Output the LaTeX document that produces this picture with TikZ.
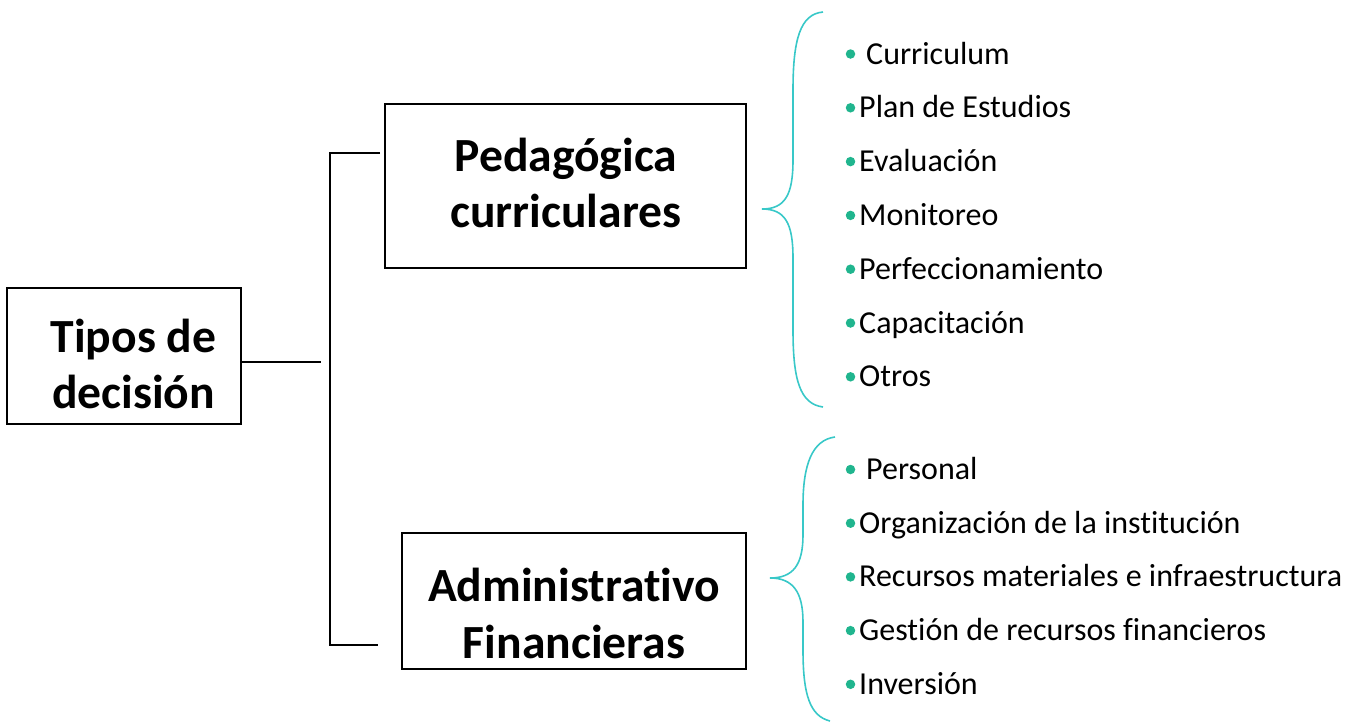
\documentclass[tikz,border=0pt]{standalone}
\usepackage{fontspec}
\setmainfont{Carlito}[Ligatures={NoCommon,NoContextual,NoRequired}]
\definecolor{bracec}{HTML}{38C8C8}
\definecolor{bulc}{HTML}{20B58E}
\tikzset{
  box/.style={draw=black, line width=1.6pt, fill=white, inner sep=0pt},
  boxtext/.style={anchor=base, font=\fontsize{47.6}{56}\selectfont\bfseries, inner sep=0pt},
  conn/.style={draw=black, line width=1.4pt},
  bracepath/.style={draw=bracec, line width=1.6pt},
  itemtext/.style={anchor=base west, font=\fontsize{32}{38}\selectfont, inner sep=0pt},
  bul/.style={circle, fill=bulc, inner sep=0pt, minimum size=9.5pt},
}
\begin{document}
\begin{tikzpicture}[x=1pt,y=-1pt]
\useasboundingbox (0,0) rectangle (1345,721);
% boxes
\node[box, minimum width=234pt, minimum height=136pt] (tipos) at (124,356) {};
\node[box, minimum width=361pt, minimum height=164pt] (ped) at (565.5,186) {};
\node[box, minimum width=344pt, minimum height=136pt] (adm) at (574,601) {};
% box texts
\node[boxtext] (t1) at (133.5,352) {Tipos de};
\node[boxtext] (t2) at (133.5,408) {decisión};
\node[boxtext] (p1) at (566,171) {Pedagógica};
\node[boxtext] (p2) at (566,227) {curriculares};
\node[boxtext] (a1) at (574,601) {Administrativo};
\node[boxtext] (a2) at (574,658) {Financieras};
% connectors
\coordinate (j0) at (321,362);
\coordinate (vt) at (330,153);
\coordinate (vb) at (330,645);
\draw[conn] (tipos.east |- j0) -- (j0);
\draw[conn] (ped.west |- vt) ++(-4,0) -- (vt) -- (vb) -- ++(48,0);
% braces
\draw[bracepath] (823,12) .. controls (800,14) and (793,40) .. (793,90)
  -- (793,160) .. controls (793,195) and (785,209) .. (762,209)
  .. controls (785,209) and (793,223) .. (793,258)
  -- (793,330) .. controls (793,380) and (800,404) .. (823,407);
\draw[bracepath] (835,437) .. controls (812,440) and (803,465) .. (803,505)
  -- (803,535) .. controls (803,565) and (793,578) .. (770,578)
  .. controls (793,578) and (803,592) .. (803,622)
  -- (803,650) .. controls (803,695) and (810,716) .. (830,721);
% list 1
\foreach \n/\t/\xx [count=\i from 0] in {
  c1/Curriculum/866, c2/Plan de Estudios/859, c3/Evaluación/859,
  c4/Monitoreo/859, c5/Perfeccionamiento/859, c6/Capacitación/859, c7/Otros/859}{
  \node[bul] (b\n) at (850.5,{64+53.8*\i-10}) {};
  \node[itemtext] (\n) at (\xx,{64+53.8*\i}) {\t};
}
% list 2
\foreach \n/\t/\xx [count=\i from 0] in {
  d1/Personal/866, d2/Organización de la institución/859,
  d3/Recursos materiales e infraestructura/859,
  d4/Gestión de recursos financieros/859, d5/Inversión/859}{
  \node[bul] (b\n) at (850.5,{479.5+53.7*\i-10}) {};
  \node[itemtext] (\n) at (\xx,{479.5+53.7*\i}) {\t};
}
\end{tikzpicture}
\end{document}
